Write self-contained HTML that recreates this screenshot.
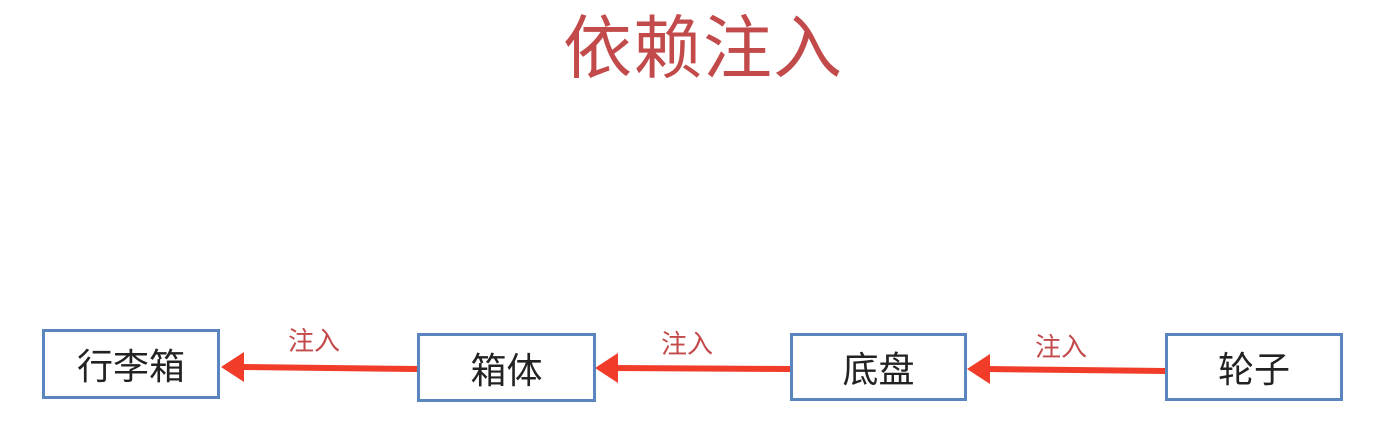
<!DOCTYPE html>
<html><head><meta charset="utf-8"><style>
body{margin:0;width:1380px;height:425px;background:#fff;position:relative;overflow:hidden;font-family:"Liberation Sans","Noto Sans CJK SC",sans-serif}
.t{position:absolute;left:563px;top:7px;font-size:69px;color:#c24a4a;letter-spacing:1px;line-height:84px}
.b{position:absolute;border:3px solid #5a86bf;box-sizing:border-box;display:flex;align-items:center;justify-content:center;font-size:36px;color:#222;background:#fff}
.l{position:absolute;font-size:26px;color:#c24a4a;line-height:30px}
</style></head><body>
<div class="t">依赖注入</div>
<svg width="1380" height="425" style="position:absolute;left:0;top:0">
<g fill="#f03c28" stroke="#f03c28">
<line x1="240" y1="367" x2="418" y2="369" stroke-width="6"/><polygon points="221,367 244,352 244,382" stroke="none"/>
<line x1="614" y1="368" x2="791" y2="369" stroke-width="6"/><polygon points="595,368 618,353 618,383" stroke="none"/>
<line x1="986" y1="369" x2="1166" y2="371" stroke-width="6"/><polygon points="967,369 990,354 990,384" stroke="none"/>
</g></svg>
<div class="b" style="left:42px;top:329px;width:178px;height:70px">行李箱</div>
<div class="b" style="left:417px;top:333px;width:179px;height:69px">箱体</div>
<div class="b" style="left:790px;top:333px;width:177px;height:68px">底盘</div>
<div class="b" style="left:1165px;top:333px;width:178px;height:68px">轮子</div>
<div class="l" style="left:288px;top:326px">注入</div>
<div class="l" style="left:661px;top:329px">注入</div>
<div class="l" style="left:1035px;top:332px">注入</div>
</body></html>
